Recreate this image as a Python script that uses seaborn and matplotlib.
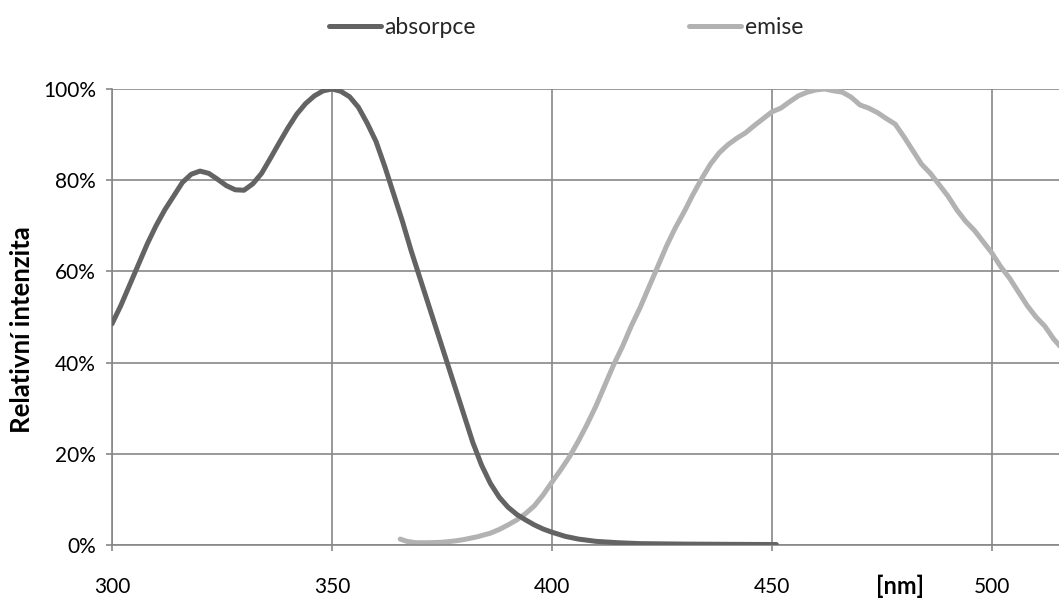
import matplotlib
matplotlib.use("Agg")
import matplotlib.pyplot as plt
import matplotlib.transforms as mtransforms
from matplotlib.ticker import FuncFormatter
import seaborn as sns
import pandas as pd

# ---- data ----
abs_nm = [300, 302, 304, 306, 308, 310, 312, 314, 316, 318, 320, 322, 324, 326, 328,
          330, 332, 334, 336, 338, 340, 342, 344, 346, 348, 350, 352, 354, 356, 358,
          360, 362, 364, 366, 368, 370, 372, 374, 376, 378, 380, 382, 384, 386, 388,
          390, 392, 394, 396, 398, 400, 403, 406, 410, 415, 420, 430, 440, 451]
abs_val = [48.5, 52.5, 57, 61.5, 66, 70, 73.5, 76.5, 79.5, 81.3, 82, 81.5, 80.2, 78.8, 77.9,
           77.8, 79.2, 81.5, 84.8, 88.2, 91.5, 94.5, 96.8, 98.5, 99.6, 100, 99.5, 98.3, 96, 92.5,
           88.5, 83, 77, 71, 64.5, 58.5, 52.5, 46.5, 40.5, 34.5, 28.5, 22.5, 17.5, 13.5, 10.5,
           8.3, 6.7, 5.5, 4.4, 3.5, 2.8, 1.9, 1.3, 0.8, 0.5, 0.3, 0.2, 0.15, 0.1]

em_nm = [365.5, 367, 369, 372, 375, 378, 380, 383, 386, 388, 390, 392, 394, 396, 398,
         400, 402, 404, 406, 408, 410, 412, 414, 416, 418, 420, 422, 424, 426, 428,
         430, 432, 434, 436, 438, 440, 442, 444, 446, 448, 450, 452, 454, 456, 458,
         460, 462, 464, 466, 468, 470, 472, 474, 476, 478, 480, 482, 484, 486, 488,
         490, 492, 494, 496, 498, 500, 502, 504, 506, 508, 510, 512, 514, 516]
em_val = [1.3, 0.8, 0.5, 0.5, 0.6, 0.9, 1.2, 1.8, 2.6, 3.4, 4.4, 5.5, 6.9, 8.6, 11,
          13.8, 16.5, 19.4, 22.8, 26.5, 30.5, 35, 39.5, 43.5, 48, 52, 56.5, 61, 65.5, 69.5,
          73, 76.8, 80.3, 83.5, 86, 87.8, 89.2, 90.4, 92, 93.5, 95, 95.8, 97.2, 98.5, 99.3,
          99.8, 100, 99.6, 99.3, 98.2, 96.5, 95.8, 94.8, 93.5, 92.3, 89.5, 86.5, 83.5, 81.5, 79,
          76.5, 73.5, 71, 69, 66.5, 64, 61, 58.5, 55.5, 52.5, 50, 48, 45.2, 43]

series_names = ["absorpce", "emise"]
x_ticks = [300, 350, 400, 450, 500]
y_ticks = [0, 20, 40, 60, 80, 100]
y_label = "Relativní intenzita"
x_unit = "[nm]"

# ---- figure ----
sns.set_theme(style="white")
plt.rcParams["font.family"] = ["Lato", "DejaVu Sans"]

W, H = 1059, 599
fig = plt.figure(figsize=(W / 100, H / 100), dpi=100)
ax = fig.add_axes([112 / W, 1 - 545 / H, (W - 112) / W, (545 - 89) / H])

df_abs = pd.DataFrame({"nm": abs_nm, "val": abs_val})
df_em = pd.DataFrame({"nm": em_nm, "val": em_val})

grid_col = "#878787"
sns.lineplot(data=df_abs, x="nm", y="val", ax=ax, color="#636363", lw=3.6,
             label=series_names[0], sort=False, estimator=None,
             solid_capstyle="round", zorder=3)
sns.lineplot(data=df_em, x="nm", y="val", ax=ax, color="#b2b2b2", lw=3.6,
             label=series_names[1], sort=False, estimator=None,
             solid_capstyle="round", zorder=2)

ax.set_xlim(300, 300 + (W - 112) / 4.4)
ax.set_ylim(0, 100)
ax.set_xticks(x_ticks)
ax.set_yticks(y_ticks)
ax.yaxis.set_major_formatter(FuncFormatter(lambda v, p: f"{int(v)}%"))
ax.grid(True, color=grid_col, lw=1.2)
ax.set_axisbelow(True)
for s in ["top", "right"]:
    ax.spines[s].set_visible(False)
for s in ["left", "bottom"]:
    ax.spines[s].set_color(grid_col)
    ax.spines[s].set_linewidth(1.2)
ax.tick_params(axis="both", direction="out", length=4.5, width=1.2, color=grid_col,
               labelsize=15, labelcolor="black")
ax.tick_params(axis="x", pad=18.5, bottom=True)
ax.tick_params(axis="y", pad=7, left=True)
ax.set_xlabel("")
ax.set_ylabel("")

fig.text(22 / W, 1 - 330 / H, y_label, rotation=90, ha="center", va="center",
         fontsize=18.5, fontweight="bold", color="black")

trans = mtransforms.blended_transform_factory(ax.transData, fig.transFigure)
ax.text(300 + (900 - 112) / 4.4, 1 - 586 / H, x_unit, transform=trans,
        ha="center", va="center", fontsize=17, fontweight="bold", color="black")

ax.get_legend().remove()
handles, labels = ax.get_legend_handles_labels()
fig.legend(handles, labels, loc="center", bbox_to_anchor=(566 / W, 1 - 28 / H),
           ncol=2, frameon=False, fontsize=16.5, handlelength=2.27,
           handletextpad=0.17, columnspacing=9.3)

fig.savefig("out.png", dpi=100, facecolor="white")
